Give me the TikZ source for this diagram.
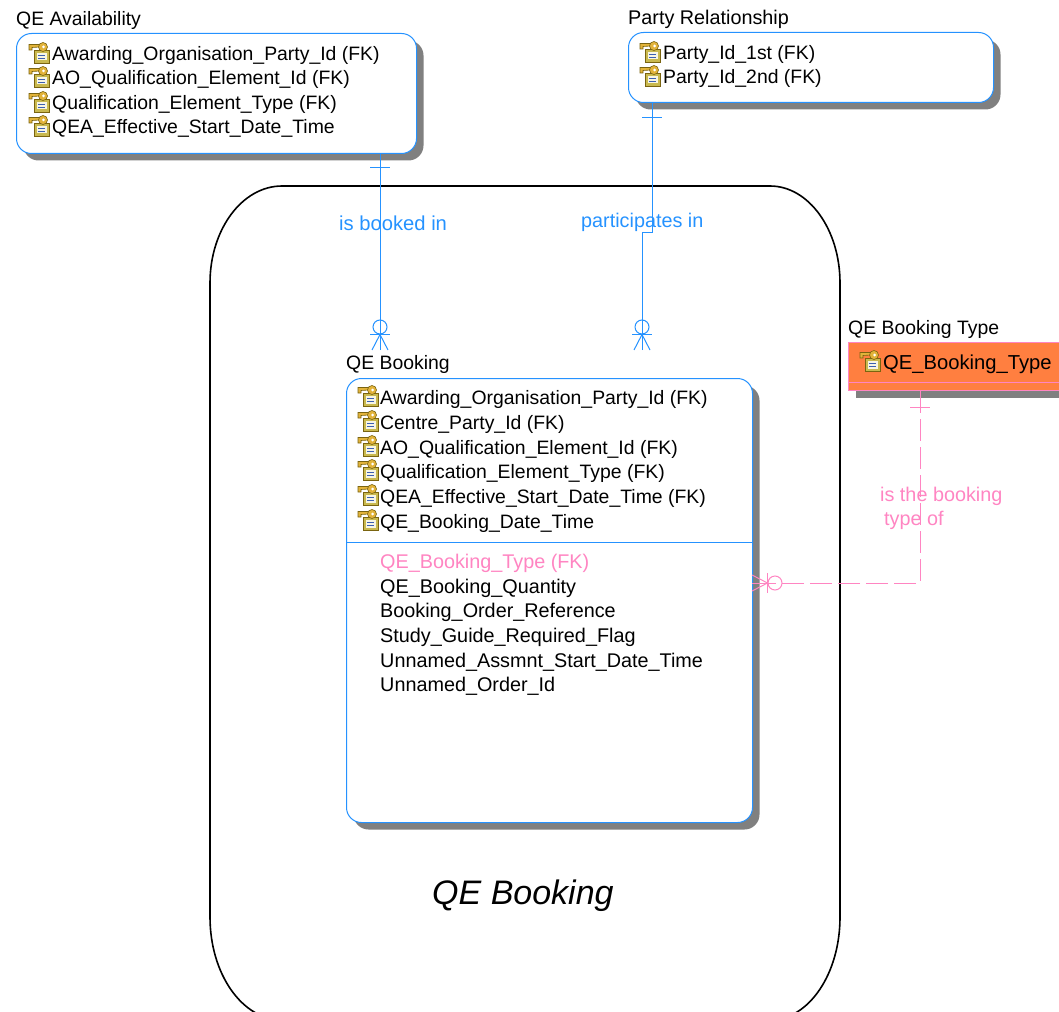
\documentclass[tikz,border=0pt]{standalone}
\usepackage{fontspec}
\setmainfont{Liberation Sans}
\usetikzlibrary{shadows}
\definecolor{er_blue}{HTML}{2592FF}
\definecolor{er_pink}{HTML}{FF85C2}
\definecolor{er_orange}{HTML}{FF7F40}
\definecolor{key_gold}{HTML}{E2B33A}
\definecolor{key_dark}{HTML}{7A6410}
\definecolor{key_box}{HTML}{C9B94F}
\definecolor{key_line}{HTML}{3C5FB0}

\begin{document}
\begin{tikzpicture}[x=1pt,y=-1pt,
	er_text/.style={anchor=base west,inner sep=0pt,font=\fontsize{19.4}{24}\selectfont},
	er_wide_text/.style={er_text,font=\fontsize{19.8}{24}\selectfont},
	rel_text/.style={anchor=base west,inner sep=0pt,font=\fontsize{19.8}{24}\selectfont},
	er_shadow/.style={drop shadow={shadow xshift=7pt,shadow yshift=-7pt,fill=black!50,opacity=1}},
	entity_box/.style={anchor=north west,draw=er_blue,fill=white,line width=1pt,inner sep=0pt,rounded corners=15pt,er_shadow},
	blue_line/.style={draw=er_blue,line width=1pt},
	pink_line/.style={draw=er_pink,line width=1pt},
	one_bar/.pic={\draw[pic actions] (-10,0) -- (10,0);},
	crow_foot/.pic={
		\draw[pic actions] (0,-23) circle[radius=7];
		\draw[pic actions] (-10,-15.5) -- (10,-15.5);
		\draw[pic actions] (-8,0) -- (0,-15.5) -- (8,0);
		\draw[pic actions] (0,0) -- (0,-15.5);
	},
	key_icon/.pic={
		\draw[key_dark,fill=key_box,line width=.6pt] (-18,-3) rectangle (-3,10);
		\fill[white!85!key_box] (-15.5,0) rectangle (-5.5,7.5);
		\draw[key_line,line width=.8pt] (-14,2) -- (-7,2) (-14,5.5) -- (-7,5.5);
		\draw[key_dark,fill=key_gold,line width=.6pt] (-23,-8.5) -- (-13,-8.5) -- (-12,-6) -- (-20,-5.5) -- (-20,-3) -- (-23,-3) -- cycle;
		\draw[key_dark,fill=key_gold,line width=.6pt] (-9,-6) circle[radius=4.5];
		\fill[white] (-8.5,-6) circle[radius=1.5];
	}]

	\useasboundingbox (0,0) rectangle (1059,1011);
	\clip (0,0) rectangle (1059,1011);

	\draw[line width=1.6pt] (210,283) arc[start angle=180,end angle=270,x radius=72,y radius=97]
		-- (770,186) arc[start angle=270,end angle=360,x radius=70,y radius=97]
		-- (840,917) arc[start angle=0,end angle=90,x radius=70,y radius=103]
		-- (282,1020) arc[start angle=90,end angle=180,x radius=72,y radius=103] -- cycle;
	\node[anchor=base west,inner sep=0pt,font=\fontsize{34}{40}\selectfont\itshape] (area_title) at (432,904) {QE Booking};

	\node[entity_box,minimum width=400pt,minimum height=120pt] (avail) at (16,33) {};
	\node[entity_box,minimum width=365pt,minimum height=70pt] (party) at (628,32) {};
	\node[entity_box,minimum width=406pt,minimum height=444pt] (booking) at (346,378) {};
	\node[anchor=north west,draw=er_pink,fill=er_orange,line width=1pt,inner sep=0pt,minimum width=230pt,minimum height=48pt,er_shadow] (type) at (848,342) {};

	\coordinate (booking_sep) at (346,542);
	\draw[blue_line] (booking_sep) -- (booking_sep -| booking.east);
	\coordinate (type_sep) at (848,382);
	\draw[pink_line] (type_sep) -- (type_sep -| type.east);

	\node[er_text] (avail_title) at (16,25.5) {QE Availability};
	\node[er_wide_text] (party_title) at (628,24.5) {Party Relationship};
	\node[er_text] (booking_title) at (346,369) {QE Booking};
	\node[er_text] (type_title) at (848,334) {QE Booking Type};

	\foreach \n/\y/\t in {1/61/Awarding\_Organisation\_Party\_Id (FK),
			2/85/AO\_Qualification\_Element\_Id (FK),
			3/110/Qualification\_Element\_Type (FK),
			4/134/QEA\_Effective\_Start\_Date\_Time}{
		\pic at (52,\y-8) {key_icon};
		\node[er_text] (avail_\n) at (52,\y) {\t};
	}

	\foreach \n/\y/\t in {1/60/Party\_Id\_1st (FK),
			2/84/Party\_Id\_2nd (FK)}{
		\pic at (663,\y-8) {key_icon};
		\node[er_text] (party_\n) at (663,\y) {\t};
	}

	\foreach \n/\y/\t in {1/404/Awarding\_Organisation\_Party\_Id (FK),
			2/429/Centre\_Party\_Id (FK),
			3/454/AO\_Qualification\_Element\_Id (FK),
			4/478/Qualification\_Element\_Type (FK),
			5/503/QEA\_Effective\_Start\_Date\_Time (FK),
			6/528/QE\_Booking\_Date\_Time}{
		\pic at (381,\y-8) {key_icon};
		\node[er_text] (booking_\n) at (380,\y) {\t};
	}

	\node[er_wide_text,text=er_pink] (booking_7) at (380,568) {QE\_Booking\_Type (FK)};
	\foreach \n/\y/\t in {8/593/QE\_Booking\_Quantity,
			9/617/Booking\_Order\_Reference,
			10/642/Study\_Guide\_Required\_Flag,
			11/667/Unnamed\_Assmnt\_Start\_Date\_Time,
			12/691/Unnamed\_Order\_Id}{
		\node[er_wide_text] (booking_\n) at (380,\y) {\t};
	}

	\pic at (883,361) {key_icon};
	\node[er_text,font=\fontsize{20.2}{24}\selectfont] (type_1) at (883,369) {QE\_Booking\_Type};

	\coordinate (booked_foot) at (380,350);
	\draw[blue_line] (avail.south -| booked_foot) -- (booked_foot);
	\pic[blue_line] at (380,168) {one_bar};
	\pic[blue_line] at (booked_foot) {crow_foot};
	\node[rel_text,text=er_blue,font=\fontsize{20.2}{24}\selectfont] (booked_label) at (339,230) {is booked in};

	\coordinate (part_step) at (652,232);
	\coordinate (part_foot) at (642,350);
	\draw[blue_line] (party.south -| part_step) -- (part_step) -- (part_step -| part_foot) -- (part_foot);
	\pic[blue_line] at (652,118) {one_bar};
	\pic[blue_line] at (part_foot) {crow_foot};
	\node[rel_text,text=er_blue] (part_label) at (581,227) {participates in};

	\coordinate (type_corner) at (920,583);
	\draw[pink_line,dash pattern=on 22pt off 6pt] (type.south -| type_corner) -- (type_corner) -- (booking.east |- type_corner);
	\pic[pink_line] at (920,407) {one_bar};
	\pic[pink_line,rotate=-90] at (752,583) {crow_foot};
	\node[rel_text,text=er_pink] (type_label_1) at (880,501) {is the booking};
	\node[rel_text,text=er_pink] (type_label_2) at (884,525) {type of};
\end{tikzpicture}
\end{document}
